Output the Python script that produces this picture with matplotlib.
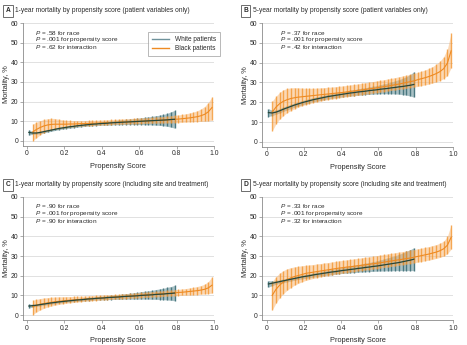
import matplotlib
matplotlib.use("Agg")
import matplotlib.pyplot as plt
from matplotlib.lines import Line2D

plt.rcParams['font.family'] = ['Liberation Sans', 'DejaVu Sans']
plt.rcParams['mathtext.fontset'] = 'custom'
plt.rcParams['mathtext.it'] = 'Liberation Sans:italic'
plt.rcParams['mathtext.rm'] = 'Liberation Sans'

# propensity score positions of the error bars
BLACK_X = [0.03, 0.05, 0.07, 0.09, 0.11, 0.13, 0.15, 0.17, 0.19, 0.21,
           0.23, 0.25, 0.27, 0.29, 0.31, 0.33, 0.35, 0.37, 0.39, 0.41,
           0.43, 0.45, 0.47, 0.49, 0.51, 0.53, 0.55, 0.57, 0.59, 0.61,
           0.63, 0.65, 0.67, 0.69, 0.71, 0.73, 0.75, 0.77, 0.79, 0.81,
           0.83, 0.85, 0.87, 0.89, 0.91, 0.93, 0.95, 0.97, 0.99]
WHITE_X = [0.01, 0.03, 0.05, 0.07, 0.09, 0.11, 0.13, 0.15, 0.17, 0.19,
           0.21, 0.23, 0.25, 0.27, 0.29, 0.31, 0.33, 0.35, 0.37, 0.39,
           0.41, 0.43, 0.45, 0.47, 0.49, 0.51, 0.53, 0.55, 0.57, 0.59,
           0.61, 0.63, 0.65, 0.67, 0.69, 0.71, 0.73, 0.75, 0.77, 0.79]

# panel A: 1-year, patient variables only
a_black_mean = [4.5, 5.8, 6.8, 7.6, 8.1, 8.4, 8.5, 8.5, 8.5, 8.5,
                8.6, 8.6, 8.7, 8.8, 8.8, 8.9, 9.0, 9.0, 9.1, 9.2,
                9.3, 9.3, 9.4, 9.5, 9.6, 9.6, 9.7, 9.8, 9.9, 10.0,
                10.1, 10.2, 10.3, 10.4, 10.5, 10.6, 10.7, 10.8, 11.0, 11.1,
                11.3, 11.5, 11.7, 12.0, 12.3, 12.8, 13.5, 14.8, 17.0]
a_black_lo = [0.0, 1.5, 3.0, 4.2, 5.0, 5.6, 6.0, 6.3, 6.6, 6.8,
              7.0, 7.2, 7.4, 7.5, 7.6, 7.7, 7.8, 7.9, 8.0, 8.1,
              8.2, 8.3, 8.4, 8.4, 8.5, 8.6, 8.6, 8.7, 8.8, 8.8,
              8.9, 8.9, 9.0, 9.0, 9.1, 9.1, 9.2, 9.2, 9.3, 9.3,
              9.4, 9.5, 9.6, 9.7, 9.8, 9.9, 10.0, 10.2, 10.5]
a_black_hi = [8.5, 9.5, 10.3, 10.9, 11.3, 11.5, 11.4, 11.0, 10.7, 10.5,
              10.4, 10.3, 10.3, 10.3, 10.3, 10.4, 10.5, 10.5, 10.6, 10.7,
              10.8, 10.9, 11.0, 11.1, 11.2, 11.3, 11.4, 11.5, 11.6, 11.7,
              11.8, 11.9, 12.0, 12.2, 12.3, 12.4, 12.6, 12.8, 13.0, 13.2,
              13.5, 13.8, 14.2, 14.7, 15.3, 16.2, 17.5, 19.5, 22.5]
a_white_mean = [4.3, 4.0, 4.0, 4.3, 4.7, 5.1, 5.5, 5.9, 6.3, 6.6,
                6.9, 7.2, 7.4, 7.7, 7.9, 8.1, 8.3, 8.5, 8.6, 8.8,
                8.9, 9.0, 9.2, 9.3, 9.4, 9.5, 9.6, 9.7, 9.8, 9.9,
                10.0, 10.1, 10.2, 10.3, 10.4, 10.5, 10.6, 10.7, 10.9, 11.0]
a_white_lo = [3.0, 3.3, 3.4, 3.7, 4.1, 4.5, 4.9, 5.3, 5.7, 6.0,
              6.3, 6.5, 6.7, 7.0, 7.2, 7.4, 7.6, 7.7, 7.8, 7.9,
              8.0, 8.0, 8.1, 8.2, 8.2, 8.3, 8.3, 8.3, 8.3, 8.3,
              8.3, 8.2, 8.2, 8.1, 8.0, 7.9, 7.7, 7.4, 7.0, 6.5]
a_white_hi = [5.6, 4.8, 4.6, 4.9, 5.3, 5.7, 6.1, 6.5, 6.9, 7.2,
              7.5, 7.9, 8.1, 8.4, 8.6, 8.8, 9.0, 9.3, 9.4, 9.7,
              9.8, 10.0, 10.3, 10.4, 10.6, 10.7, 10.9, 11.1, 11.3, 11.5,
              11.7, 12.0, 12.2, 12.5, 12.8, 13.1, 13.5, 14.0, 14.8, 15.5]

# panel B: 5-year, patient variables only
b_black_mean = [15.0, 17.5, 19.3, 20.5, 21.3, 21.9, 22.3, 22.6, 22.8, 23.0,
                23.2, 23.4, 23.6, 23.8, 24.0, 24.2, 24.4, 24.6, 24.8, 25.0,
                25.2, 25.5, 25.7, 26.0, 26.2, 26.5, 26.8, 27.0, 27.3, 27.6,
                27.9, 28.2, 28.5, 28.9, 29.2, 29.6, 30.0, 30.4, 30.8, 31.4,
                31.9, 32.4, 33.0, 33.7, 34.5, 35.5, 37.0, 39.8, 46.0]
b_black_lo = [5.5, 9.0, 11.5, 13.3, 14.7, 15.8, 16.7, 17.5, 18.2, 18.8,
              19.3, 19.8, 20.2, 20.6, 21.0, 21.3, 21.6, 21.9, 22.2, 22.5,
              22.8, 23.0, 23.3, 23.5, 23.8, 24.1, 24.3, 24.6, 24.9, 25.1,
              25.4, 25.7, 26.0, 26.2, 26.5, 26.8, 27.1, 27.4, 27.7, 28.0,
              28.4, 28.8, 29.2, 29.7, 30.3, 31.0, 32.0, 33.5, 37.5]
b_black_hi = [20.5, 23.0, 25.0, 26.3, 27.0, 27.3, 27.4, 27.3, 27.2, 27.1,
              27.1, 27.1, 27.2, 27.3, 27.4, 27.6, 27.7, 27.9, 28.1, 28.3,
              28.5, 28.8, 29.0, 29.3, 29.6, 29.9, 30.2, 30.5, 30.8, 31.1,
              31.4, 31.8, 32.1, 32.5, 32.9, 33.3, 33.7, 34.1, 34.6, 35.1,
              35.7, 36.3, 37.1, 38.0, 39.2, 40.8, 43.0, 47.0, 55.0]
b_white_mean = [14.8, 14.6, 15.0, 15.7, 16.5, 17.2, 17.9, 18.6, 19.2, 19.8,
                20.3, 20.8, 21.3, 21.7, 22.1, 22.5, 22.9, 23.2, 23.5, 23.8,
                24.1, 24.4, 24.7, 24.9, 25.2, 25.4, 25.6, 25.9, 26.1, 26.3,
                26.6, 26.8, 27.0, 27.3, 27.5, 27.8, 28.0, 28.3, 28.6, 29.0]
b_white_lo = [12.8, 13.3, 13.9, 14.6, 15.4, 16.1, 16.8, 17.5, 18.1, 18.7,
              19.2, 19.7, 20.2, 20.6, 21.0, 21.4, 21.7, 22.0, 22.3, 22.5,
              22.8, 23.0, 23.2, 23.4, 23.6, 23.7, 23.9, 24.0, 24.1, 24.2,
              24.3, 24.3, 24.3, 24.3, 24.2, 24.1, 23.9, 23.6, 23.2, 22.6]
b_white_hi = [16.8, 15.9, 16.1, 16.8, 17.6, 18.3, 19.0, 19.7, 20.3, 20.9,
              21.4, 21.9, 22.4, 22.8, 23.2, 23.6, 24.1, 24.4, 24.7, 25.1,
              25.4, 25.8, 26.2, 26.4, 26.8, 27.1, 27.3, 27.8, 28.1, 28.4,
              28.9, 29.3, 29.7, 30.3, 30.8, 31.5, 32.1, 33.0, 34.0, 35.4]

# panel C: 1-year, including site and treatment
c_black_mean = [4.3, 5.0, 5.5, 5.9, 6.2, 6.5, 6.8, 7.0, 7.2, 7.4,
                7.6, 7.7, 7.9, 8.0, 8.1, 8.3, 8.4, 8.5, 8.7, 8.8,
                8.9, 9.1, 9.2, 9.3, 9.4, 9.6, 9.7, 9.8, 10.0, 10.1,
                10.2, 10.4, 10.5, 10.6, 10.8, 10.9, 11.0, 11.2, 11.3, 11.5,
                11.6, 11.8, 12.0, 12.2, 12.4, 12.7, 13.1, 13.8, 15.2]
c_black_lo = [0.2, 1.5, 2.6, 3.4, 4.1, 4.6, 5.0, 5.4, 5.7, 6.0,
              6.2, 6.4, 6.6, 6.8, 7.0, 7.1, 7.3, 7.4, 7.6, 7.7,
              7.8, 8.0, 8.1, 8.2, 8.3, 8.4, 8.5, 8.6, 8.8, 8.9,
              9.0, 9.1, 9.2, 9.3, 9.4, 9.5, 9.6, 9.7, 9.8, 9.9,
              10.0, 10.1, 10.2, 10.3, 10.4, 10.6, 10.7, 10.9, 11.2]
c_black_hi = [7.5, 8.0, 8.4, 8.7, 8.9, 9.1, 9.2, 9.3, 9.3, 9.4,
              9.4, 9.5, 9.6, 9.6, 9.7, 9.8, 9.9, 10.0, 10.1, 10.2,
              10.3, 10.4, 10.5, 10.6, 10.8, 10.9, 11.0, 11.2, 11.3, 11.5,
              11.6, 11.8, 11.9, 12.1, 12.2, 12.4, 12.6, 12.7, 12.9, 13.1,
              13.3, 13.5, 13.8, 14.1, 14.5, 15.0, 15.7, 17.0, 19.5]
c_white_mean = [4.6, 4.8, 5.0, 5.3, 5.6, 5.9, 6.2, 6.4, 6.7, 6.9,
                7.1, 7.3, 7.5, 7.7, 7.8, 8.0, 8.2, 8.3, 8.5, 8.6,
                8.7, 8.9, 9.0, 9.1, 9.2, 9.4, 9.5, 9.6, 9.7, 9.8,
                10.0, 10.1, 10.2, 10.3, 10.5, 10.6, 10.7, 10.9, 11.0, 11.2]
c_white_lo = [3.6, 4.1, 4.4, 4.7, 5.0, 5.3, 5.6, 5.8, 6.1, 6.3,
              6.5, 6.7, 6.9, 7.0, 7.1, 7.3, 7.4, 7.5, 7.7, 7.7,
              7.8, 7.9, 7.9, 8.0, 8.0, 8.1, 8.1, 8.1, 8.1, 8.1,
              8.1, 8.1, 8.1, 8.0, 8.0, 7.9, 7.8, 7.7, 7.5, 7.3]
c_white_hi = [5.6, 5.5, 5.6, 5.9, 6.2, 6.5, 6.8, 7.0, 7.3, 7.5,
              7.7, 7.9, 8.1, 8.4, 8.5, 8.7, 9.0, 9.1, 9.3, 9.5,
              9.6, 9.9, 10.1, 10.2, 10.4, 10.7, 10.9, 11.1, 11.3, 11.5,
              11.9, 12.1, 12.3, 12.6, 13.0, 13.3, 13.6, 14.1, 14.5, 15.1]

# panel D: 5-year, including site and treatment
d_black_mean = [10.0, 13.0, 15.2, 16.8, 18.0, 18.9, 19.6, 20.1, 20.6, 21.2,
                21.5, 21.8, 22.1, 22.4, 22.7, 23.0, 23.3, 23.6, 23.9, 24.1,
                24.4, 24.6, 24.8, 25.1, 25.3, 25.6, 25.8, 26.1, 26.3, 26.6,
                26.9, 27.2, 27.5, 27.8, 28.1, 28.4, 28.7, 29.0, 29.4, 29.8,
                30.2, 30.6, 31.0, 31.5, 32.0, 32.7, 33.7, 35.5, 39.5]
d_black_lo = [2.5, 6.0, 8.8, 10.9, 12.6, 14.0, 15.2, 16.1, 16.9, 17.6,
              18.1, 18.6, 19.0, 19.4, 19.8, 20.1, 20.4, 20.8, 21.1, 21.3,
              21.6, 21.9, 22.1, 22.4, 22.6, 22.9, 23.1, 23.4, 23.6, 23.9,
              24.2, 24.4, 24.7, 25.0, 25.3, 25.6, 25.9, 26.2, 26.5, 26.9,
              27.2, 27.6, 27.9, 28.3, 28.8, 29.3, 30.0, 31.2, 33.5]
d_black_hi = [17.0, 19.5, 21.3, 22.6, 23.5, 24.1, 24.5, 24.8, 25.1, 25.3,
              25.5, 25.7, 26.0, 26.2, 26.5, 26.7, 27.0, 27.3, 27.6, 27.8,
              28.1, 28.3, 28.6, 28.8, 29.1, 29.4, 29.6, 29.9, 30.2, 30.5,
              30.8, 31.1, 31.4, 31.7, 32.0, 32.3, 32.6, 33.0, 33.3, 33.7,
              34.0, 34.4, 34.8, 35.3, 35.8, 36.5, 37.6, 40.0, 46.0]
d_white_mean = [15.8, 16.2, 16.6, 17.0, 17.4, 17.8, 18.2, 18.6, 19.0, 19.4,
                19.7, 20.0, 20.4, 20.7, 21.0, 21.3, 21.6, 21.9, 22.1, 22.4,
                22.7, 22.9, 23.2, 23.4, 23.7, 23.9, 24.2, 24.4, 24.7, 24.9,
                25.2, 25.5, 25.8, 26.1, 26.4, 26.7, 27.1, 27.5, 27.9, 28.4]
d_white_lo = [14.2, 15.0, 15.6, 16.1, 16.5, 16.9, 17.3, 17.7, 18.1, 18.4,
              18.7, 19.0, 19.3, 19.6, 19.9, 20.1, 20.3, 20.6, 20.8, 21.0,
              21.2, 21.3, 21.5, 21.6, 21.8, 21.9, 22.0, 22.1, 22.2, 22.3,
              22.4, 22.4, 22.5, 22.5, 22.6, 22.6, 22.6, 22.6, 22.6, 22.6]
d_white_hi = [17.5, 17.4, 17.6, 17.9, 18.3, 18.7, 19.1, 19.5, 19.9, 20.4,
              20.7, 21.0, 21.5, 21.8, 22.1, 22.5, 22.9, 23.2, 23.4, 23.8,
              24.2, 24.5, 24.9, 25.2, 25.6, 25.9, 26.4, 26.7, 27.2, 27.5,
              28.0, 28.6, 29.1, 29.7, 30.2, 30.8, 31.6, 32.4, 33.2, 34.2]

panel_letters = ["A", "B", "C", "D"]
panel_titles = ["1-year mortality by propensity score (patient variables only)",
                "5-year mortality by propensity score (patient variables only)",
                "1-year mortality by propensity score (including site and treatment)",
                "5-year mortality by propensity score (including site and treatment)"]
p_race = [".58", ".37", ".90", ".33"]
p_score = [".001", ".001", ".001", ".001"]
p_inter = [".62", ".42", ".90", ".32"]

ORANGE_BAND = "#f9b56e"
ORANGE_BAR = "#f28d1e"
ORANGE_LINE = "#ee8a22"
TEAL_BAND = "#a9c1c5"
TEAL_BAR = "#4a7880"
GREEN_LINE = "#28473a"
GRID = "#dcdcdc"
AXIS = "#8a8a8a"
TEXT = "#2a2a2a"


def draw_panel(ax, black, white):
    b_mean, b_lo, b_hi = black
    w_mean, w_lo, w_hi = white
    # white patients underneath, black patients see-through on top (overlap goes brown)
    ax.fill_between(WHITE_X, w_lo, w_hi, color=TEAL_BAND, lw=0, zorder=2)
    ax.vlines(WHITE_X, w_lo, w_hi, color=TEAL_BAR, lw=1.0, zorder=3)
    ax.fill_between(BLACK_X, b_lo, b_hi, color=ORANGE_BAND, lw=0, alpha=0.5, zorder=4)
    ax.vlines(BLACK_X, b_lo, b_hi, color=ORANGE_BAR, lw=1.0, alpha=0.7, zorder=5)
    ax.plot(BLACK_X, b_mean, color=ORANGE_LINE, lw=0.8, zorder=6)
    ax.plot(WHITE_X, w_mean, color=GREEN_LINE, lw=0.9, zorder=7)

    ax.set_xlim(-0.022, 1.0)
    ax.set_ylim(-2.4, 60)
    ax.set_xticks([0, 0.2, 0.4, 0.6, 0.8, 1.0])
    ax.set_xticklabels(["0", "0.2", "0.4", "0.6", "0.8", "1.0"])
    ax.set_yticks([0, 10, 20, 30, 40, 50, 60])
    ax.grid(axis="y", color=GRID, lw=0.6)
    ax.set_axisbelow(True)
    for side in ["top", "right"]:
        ax.spines[side].set_visible(False)
    for side in ["left", "bottom"]:
        ax.spines[side].set_color(AXIS)
        ax.spines[side].set_linewidth(0.6)
    ax.tick_params(length=2, width=0.5, color=AXIS, labelsize=4.9, pad=1.5,
                   labelcolor=TEXT)
    ax.set_xlabel("Propensity Score", fontsize=5.3, color=TEXT)
    ax.set_ylabel("Mortality, %", fontsize=5.3, color=TEXT)
    ax.xaxis.set_label_coords(0.5, -0.14)
    ax.yaxis.set_label_coords(-0.07, 0.5)


fig = plt.figure(figsize=(4.67, 3.45), dpi=100)

boxes = [[0.049, 0.578, 0.409, 0.355],
         [0.562, 0.575, 0.408, 0.358],
         [0.049, 0.073, 0.409, 0.356],
         [0.562, 0.073, 0.408, 0.356]]
title_y = [0.969, 0.969, 0.464, 0.464]
letter_x = [0.017, 0.526, 0.017, 0.526]

all_data = [((a_black_mean, a_black_lo, a_black_hi), (a_white_mean, a_white_lo, a_white_hi)),
            ((b_black_mean, b_black_lo, b_black_hi), (b_white_mean, b_white_lo, b_white_hi)),
            ((c_black_mean, c_black_lo, c_black_hi), (c_white_mean, c_white_lo, c_white_hi)),
            ((d_black_mean, d_black_lo, d_black_hi), (d_white_mean, d_white_lo, d_white_hi))]

for i in range(4):
    ax = fig.add_axes(boxes[i])
    draw_panel(ax, all_data[i][0], all_data[i][1])

    # panel letter in a little box, then the title
    fig.text(letter_x[i], title_y[i], panel_letters[i], fontsize=4.8, weight="bold",
             ha="center", va="center", color=TEXT,
             bbox=dict(boxstyle="square,pad=0.35", fc="white", ec="#555555", lw=0.6))
    fig.text(letter_x[i] + 0.015, title_y[i], panel_titles[i], fontsize=4.8,
             ha="left", va="center", color=TEXT)

    # P values
    px = 0.043 if i in (0, 2) else 0.073
    lines = [p_race[i] + " for race", p_score[i] + " for propensity score",
             p_inter[i] + " for interaction"]
    for j in range(3):
        ax.text(px, 55.2 - 3.6 * j, r"$\it{P}$" + " = " + lines[j], fontsize=4.6,
                ha="left", va="center", color=TEXT)

    if i == 0:
        handles = [Line2D([0], [0], color="#6f929b", lw=1.0),
                   Line2D([0], [0], color=ORANGE_LINE, lw=1.0)]
        leg = ax.legend(handles, ["White patients", "Black patients"],
                        loc="upper left", bbox_to_anchor=(0.655, 0.926),
                        borderaxespad=0, fontsize=4.7, frameon=True, fancybox=False,
                        handlelength=2.6, handletextpad=0.9, borderpad=0.6,
                        labelspacing=0.3, labelcolor=TEXT)
        leg.get_frame().set_edgecolor("#999999")
        leg.get_frame().set_linewidth(0.6)

fig.savefig("out.png", dpi=100)
